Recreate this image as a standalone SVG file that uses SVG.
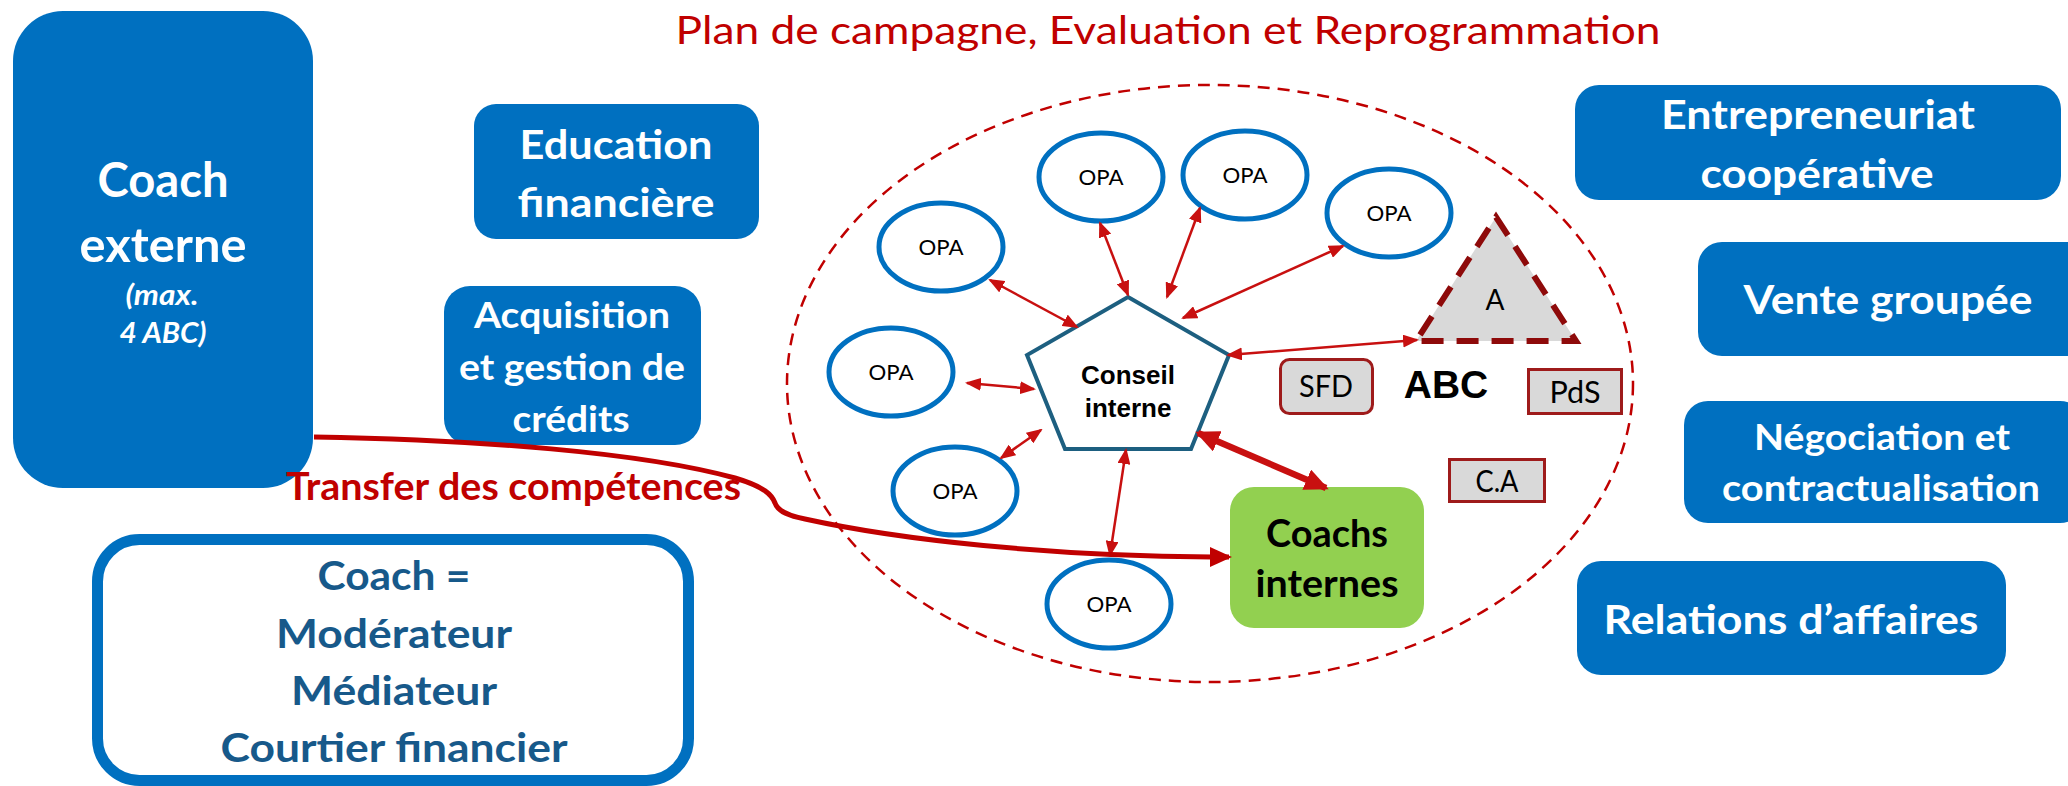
<svg xmlns="http://www.w3.org/2000/svg" width="2068" height="786" viewBox="0 0 2068 786">
<style>
.box{fill:#0070C0}
.wt{font-family:Lato,"Liberation Sans",sans-serif;font-weight:bold;fill:#FFFFFF;text-anchor:middle}
.opa{fill:#FFFFFF;stroke:#0070C0;stroke-width:5}
.opat{font-family:Lato,"Liberation Sans",sans-serif;font-size:21px;fill:#000000;text-anchor:middle}
.gray{fill:#D9D9D9;stroke:#9E1B1B;stroke-width:3}
.grayt{font-family:Lato,"Liberation Sans",sans-serif;font-size:30px;fill:#000000;text-anchor:middle}
.thin{fill:none;stroke:#C81010;stroke-width:2.5;marker-start:url(#ah);marker-end:url(#ah)}
.dk{font-family:Lato,"Liberation Sans",sans-serif;font-weight:bold;fill:#17598A;text-anchor:middle;font-size:40px}
</style>
<defs>
<marker id="ah" markerUnits="userSpaceOnUse" viewBox="0 0 16 13" markerWidth="16" markerHeight="13" refX="14" refY="6.5" orient="auto-start-reverse">
<path d="M0,0 L16,6.5 L0,13 Z" fill="#C81010"/>
</marker>
<marker id="ahb" markerUnits="userSpaceOnUse" viewBox="0 0 24 22" markerWidth="24" markerHeight="22" refX="21" refY="11" orient="auto-start-reverse">
<path d="M0,0 L24,11 L0,22 Z" fill="#C81010"/>
</marker>
<marker id="aht" markerUnits="userSpaceOnUse" viewBox="0 0 22 20" markerWidth="22" markerHeight="20" refX="19" refY="10" orient="auto">
<path d="M0,0 L22,10 L0,20 Z" fill="#C00000"/>
</marker>
</defs>
<rect width="2068" height="786" fill="#FFFFFF"/>

<g id="title">
<text x="1168" y="44" font-family="Lato,'Liberation Sans',sans-serif" font-size="38" fill="#C00000" text-anchor="middle" textLength="985" lengthAdjust="spacingAndGlyphs">Plan de campagne, Evaluation et Reprogrammation</text>
</g>

<g id="abc-zone">
<ellipse cx="1210" cy="383.5" rx="423" ry="298.5" fill="none" stroke="#C00000" stroke-width="2.5" stroke-dasharray="12 8"/>
</g>

<g id="coach-externe">
<rect class="box" x="13" y="11" width="300" height="477" rx="50"/>
<text class="wt" x="163" y="197" font-size="48" textLength="131" lengthAdjust="spacingAndGlyphs">Coach</text>
<text class="wt" x="163" y="262" font-size="48" textLength="167" lengthAdjust="spacingAndGlyphs">externe</text>
<text class="wt" x="162" y="305" font-size="29" font-style="italic" textLength="73" lengthAdjust="spacingAndGlyphs">(max.</text>
<text class="wt" x="163" y="343" font-size="29" font-style="italic" textLength="87" lengthAdjust="spacingAndGlyphs">4 ABC)</text>
</g>

<g id="education">
<rect class="box" x="474" y="104" width="285" height="135" rx="22"/>
<text class="wt" x="616" y="159" font-size="41" textLength="193" lengthAdjust="spacingAndGlyphs">Education</text>
<text class="wt" x="616" y="217" font-size="41" textLength="197" lengthAdjust="spacingAndGlyphs">financière</text>
</g>

<g id="acquisition">
<rect class="box" x="444" y="286" width="257" height="159" rx="26"/>
<text class="wt" x="572" y="328" font-size="37" textLength="196" lengthAdjust="spacingAndGlyphs">Acquisition</text>
<text class="wt" x="572" y="380" font-size="37" textLength="226" lengthAdjust="spacingAndGlyphs">et gestion de</text>
<text class="wt" x="571" y="432" font-size="37" textLength="117" lengthAdjust="spacingAndGlyphs">crédits</text>
</g>

<g id="coach-role">
<rect x="97.5" y="539.5" width="591" height="241" rx="42" fill="#FFFFFF" stroke="#0070C0" stroke-width="11"/>
<text class="dk" x="394" y="590" textLength="153" lengthAdjust="spacingAndGlyphs">Coach =</text>
<text class="dk" x="394" y="648" textLength="236" lengthAdjust="spacingAndGlyphs">Modérateur</text>
<text class="dk" x="394" y="705" textLength="206" lengthAdjust="spacingAndGlyphs">Médiateur</text>
<text class="dk" x="394" y="762" textLength="347" lengthAdjust="spacingAndGlyphs">Courtier financier</text>
</g>

<g id="transfer-label">
<text x="513.5" y="500" font-family="Lato,'Liberation Sans',sans-serif" font-weight="bold" font-size="38" fill="#C00000" text-anchor="middle" textLength="455" lengthAdjust="spacingAndGlyphs">Transfer des compétences</text>
</g>

<g id="entrepreneuriat">
<rect class="box" x="1575" y="85" width="486" height="115" rx="24"/>
<text class="wt" x="1818" y="129" font-size="41" textLength="314" lengthAdjust="spacingAndGlyphs">Entrepreneuriat</text>
<text class="wt" x="1817" y="188" font-size="41" textLength="233" lengthAdjust="spacingAndGlyphs">coopérative</text>
</g>

<g id="vente">
<rect class="box" x="1698" y="242" width="400" height="114" rx="24"/>
<text class="wt" x="1888" y="314" font-size="41" textLength="289" lengthAdjust="spacingAndGlyphs">Vente groupée</text>
</g>

<g id="negociation">
<rect class="box" x="1684" y="401" width="400" height="122" rx="24"/>
<text class="wt" x="1882" y="450" font-size="37" textLength="256" lengthAdjust="spacingAndGlyphs">Négociation et</text>
<text class="wt" x="1881" y="501" font-size="37" textLength="318" lengthAdjust="spacingAndGlyphs">contractualisation</text>
</g>

<g id="relations">
<rect class="box" x="1577" y="561" width="429" height="114" rx="24"/>
<text class="wt" x="1791" y="634" font-size="41" textLength="375" lengthAdjust="spacingAndGlyphs">Relations d’affaires</text>
</g>

<g id="opa-1"><ellipse class="opa" cx="941" cy="247" rx="62" ry="44"/><text class="opat" x="941" y="255" textLength="45" lengthAdjust="spacingAndGlyphs">OPA</text></g>
<g id="opa-2"><ellipse class="opa" cx="1101" cy="177" rx="62" ry="44"/><text class="opat" x="1101" y="185" textLength="45" lengthAdjust="spacingAndGlyphs">OPA</text></g>
<g id="opa-3"><ellipse class="opa" cx="1245" cy="175" rx="62" ry="44"/><text class="opat" x="1245" y="183" textLength="45" lengthAdjust="spacingAndGlyphs">OPA</text></g>
<g id="opa-4"><ellipse class="opa" cx="1389" cy="213" rx="62" ry="44"/><text class="opat" x="1389" y="221" textLength="45" lengthAdjust="spacingAndGlyphs">OPA</text></g>
<g id="opa-5"><ellipse class="opa" cx="891" cy="372" rx="62" ry="44"/><text class="opat" x="891" y="380" textLength="45" lengthAdjust="spacingAndGlyphs">OPA</text></g>
<g id="opa-6"><ellipse class="opa" cx="955" cy="491" rx="62" ry="44"/><text class="opat" x="955" y="499" textLength="45" lengthAdjust="spacingAndGlyphs">OPA</text></g>
<g id="opa-7"><ellipse class="opa" cx="1109" cy="604" rx="62" ry="44"/><text class="opat" x="1109" y="612" textLength="45" lengthAdjust="spacingAndGlyphs">OPA</text></g>

<g id="conseil-interne">
<polygon points="1128,297 1229,355 1191,449 1065,449 1027,355" fill="#FFFFFF" stroke="#1D5F80" stroke-width="4"/>
<text x="1128" y="384" font-family="'Liberation Sans',Arial,sans-serif" font-weight="bold" font-size="26" text-anchor="middle" fill="#000000">Conseil</text>
<text x="1128" y="417" font-family="'Liberation Sans',Arial,sans-serif" font-weight="bold" font-size="26" text-anchor="middle" fill="#000000">interne</text>
</g>

<g id="triangle-a">
<polygon points="1496,217 1576,341 1416,341" fill="#D9D9D9" stroke="#8E0A0A" stroke-width="6" stroke-dasharray="22 13"/>
<text x="1495" y="310" font-family="Lato,'Liberation Sans',sans-serif" font-size="28" text-anchor="middle" fill="#000000">A</text>
</g>

<g id="abc-label">
<text x="1446" y="398" font-family="'Liberation Sans',Arial,sans-serif" font-weight="bold" font-size="39" text-anchor="middle" fill="#000000">ABC</text>
</g>

<g id="sfd"><rect class="gray" x="1280.5" y="359.5" width="92" height="54" rx="9"/><text class="grayt" x="1326" y="397" textLength="54" lengthAdjust="spacingAndGlyphs">SFD</text></g>
<g id="pds"><rect class="gray" x="1528.5" y="369.5" width="93" height="44"/><text class="grayt" x="1575" y="403" textLength="51" lengthAdjust="spacingAndGlyphs">PdS</text></g>
<g id="ca"><rect class="gray" x="1449.5" y="459.5" width="95" height="42"/><text class="grayt" x="1497" y="492" font-size="28" textLength="43" lengthAdjust="spacingAndGlyphs">C.A</text></g>

<g id="coachs-internes">
<rect x="1230" y="487" width="194" height="141" rx="24" fill="#92D050"/>
<text x="1327" y="547" font-family="Lato,'Liberation Sans',sans-serif" font-weight="bold" font-size="38" text-anchor="middle" fill="#000000" textLength="122" lengthAdjust="spacingAndGlyphs">Coachs</text>
<text x="1327" y="597" font-family="Lato,'Liberation Sans',sans-serif" font-weight="bold" font-size="38" text-anchor="middle" fill="#000000" textLength="143" lengthAdjust="spacingAndGlyphs">internes</text>
</g>

<g id="connectors">
<line class="thin" x1="990" y1="280" x2="1077" y2="327"/>
<line class="thin" x1="1100" y1="223" x2="1128" y2="295"/>
<line class="thin" x1="1200" y1="208" x2="1167" y2="297"/>
<line class="thin" x1="1343" y1="246" x2="1183" y2="318"/>
<line class="thin" x1="967" y1="383" x2="1034" y2="389"/>
<line class="thin" x1="1001" y1="458" x2="1041" y2="430"/>
<line class="thin" x1="1126" y1="450" x2="1110" y2="555"/>
<line class="thin" x1="1228" y1="355" x2="1417" y2="340"/>
<line x1="1198" y1="433" x2="1326" y2="488" stroke="#C81010" stroke-width="6.5" marker-start="url(#ahb)" marker-end="url(#ahb)"/>
<path d="M314,437 C480,440 640,452 735,478 C765,487 772,495 775,503 C778,512 790,516 805,519 C900,540 1050,556 1212,557 L1229,557" fill="none" stroke="#C00000" stroke-width="5" marker-end="url(#aht)"/>
</g>
</svg>
